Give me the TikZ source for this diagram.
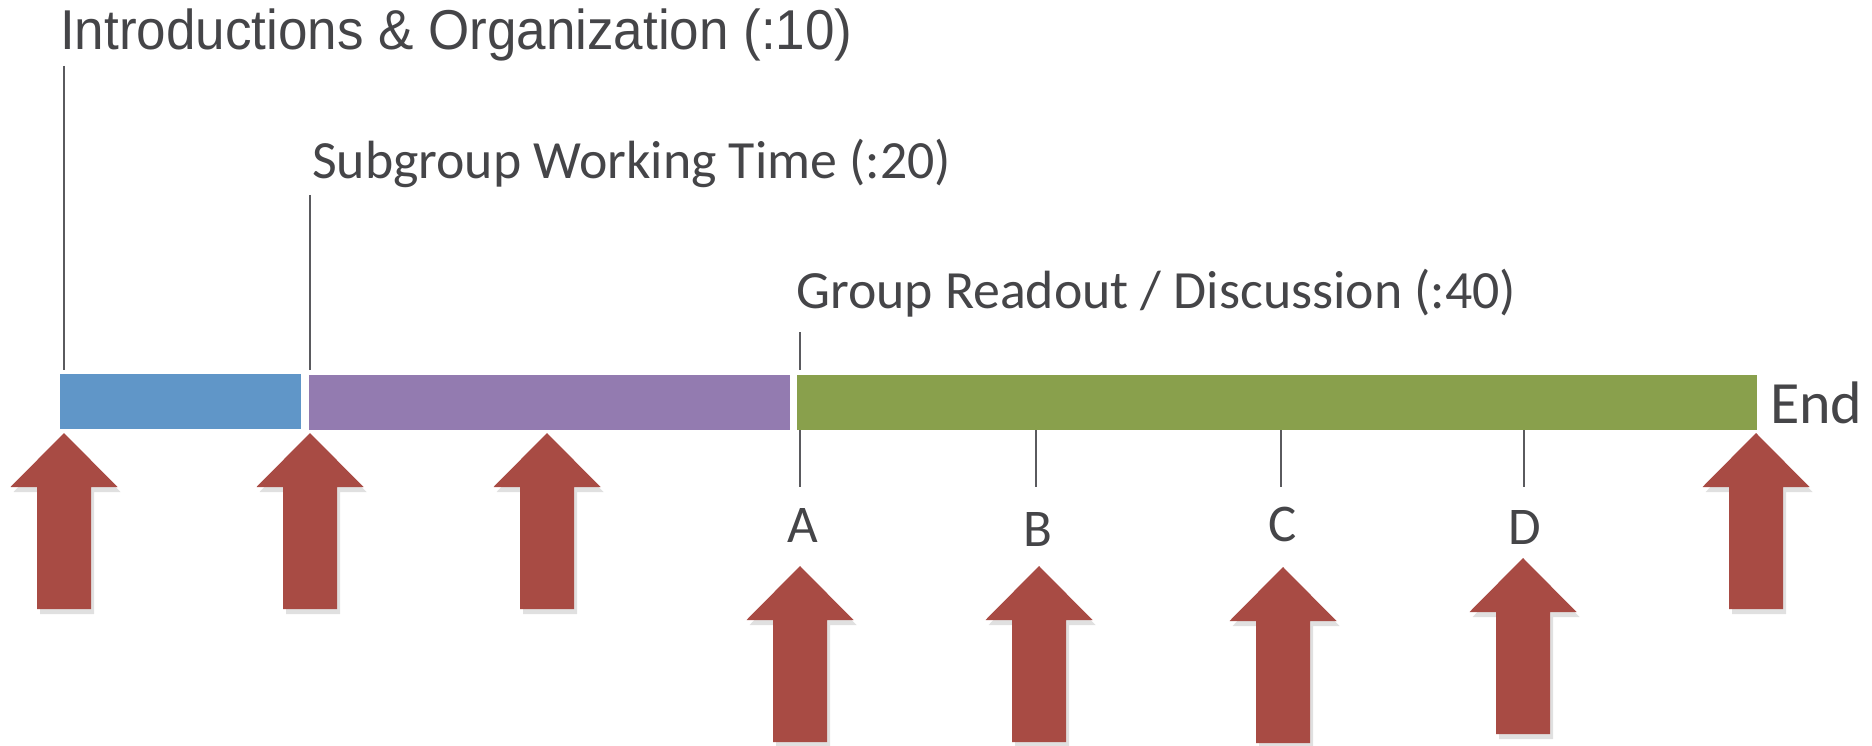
\documentclass[tikz,border=0pt]{standalone}
\usepackage{fontspec}
\setmainfont{Carlito}
\newfontfamily\helv{Liberation Sans}
\definecolor{cblue}{HTML}{6096C8}
\definecolor{cpurple}{HTML}{937BB0}
\definecolor{cgreen}{HTML}{89A04C}
\definecolor{cred}{HTML}{A84B44}
\definecolor{ctext}{HTML}{454548}
\definecolor{ctick}{HTML}{5A5A5E}
\newcommand{\redup}[2]{%
  \fill[black,opacity=0.12] (#1+3,#2+5) -- ++(53.5,54) -- ++(-26.5,0) -- ++(0,122) -- ++(-54,0) -- ++(0,-122) -- ++(-26.5,0) -- cycle;
  \fill[cred] (#1,#2) -- ++(53.5,54) -- ++(-26.5,0) -- ++(0,122) -- ++(-54,0) -- ++(0,-122) -- ++(-26.5,0) -- cycle;}
\tikzset{
  lbl/.style={inner sep=0pt, text=ctext, font=\fontsize{53}{60}\selectfont},
  tick/.style={draw=ctick, line width=2.5pt},
}
\begin{document}
\begin{tikzpicture}[x=1pt,y=-1pt]
\useasboundingbox (0,0) rectangle (1872,746);
% bars
\fill[cblue] (60,374) rectangle (301,429);
\fill[cpurple] (309,375) rectangle (790,430);
\fill[cgreen] (797,375) rectangle (1757,430);
% titles
\node[lbl, anchor=base west, font=\helv\fontsize{53}{60}\selectfont, yscale=1.06] (intro) at (60,50) {Introductions \& Organization (:10)};
\node[lbl, anchor=base west, font=\fontsize{53.8}{60}\selectfont] (sub) at (312,179) {Subgroup Working Time (:20)};
\node[lbl, anchor=base west, font=\fontsize{53.8}{60}\selectfont] (grp) at (796,308) {Group Readout / Discussion (:40)};
\node[lbl, anchor=base west, font=\fontsize{60}{66}\selectfont] (end) at (1770,423) {End};
% upper ticks
\coordinate (t1a) at (64,66); \coordinate (t1b) at (64,370);
\coordinate (t2a) at (310,195); \coordinate (t2b) at (310,370);
\coordinate (t3a) at (800,332); \coordinate (t3b) at (800,370);
\draw[tick] (t1a) -- (t1b);
\draw[tick] (t2a) -- (t2b);
\draw[tick] (t3a) -- (t3b);
% lower ticks and labels
\node[lbl, anchor=base] (A) at (803,542) {A};
\node[lbl, anchor=base] (B) at (1038,546) {B};
\node[lbl, anchor=base] (C) at (1283,541) {C};
\node[lbl, anchor=base] (D) at (1525,544) {D};
\coordinate (ta) at (800,430); \coordinate (tb) at (1036,430);
\coordinate (tc) at (1281,430); \coordinate (td) at (1524,430);
\draw[tick] (ta) -- ++(0,57);
\draw[tick] (tb) -- ++(0,57);
\draw[tick] (tc) -- ++(0,57);
\draw[tick] (td) -- ++(0,57);
% arrows
\redup{64}{433}
\redup{310}{433}
\redup{547}{433}
\redup{1756}{433}
\redup{800}{566}
\redup{1039}{566}
\redup{1283}{567}
\redup{1523}{558}
\end{tikzpicture}
\end{document}
